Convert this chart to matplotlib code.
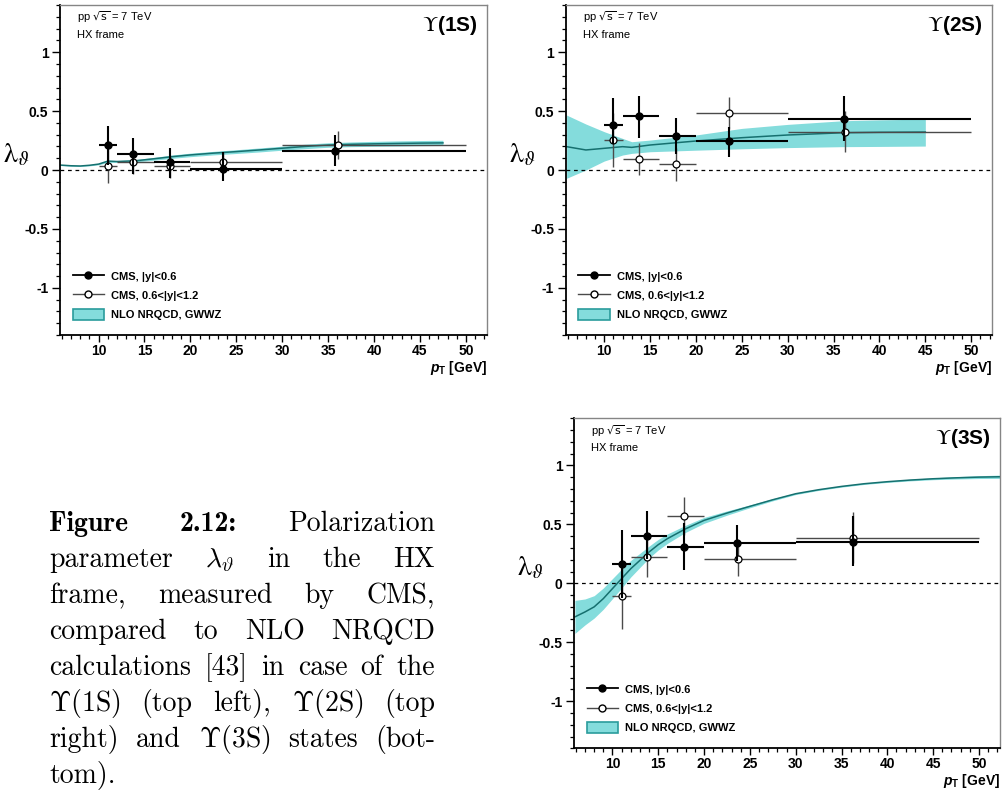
import matplotlib
matplotlib.use("Agg")
import matplotlib.pyplot as plt
import matplotlib.patches as mpatches
from matplotlib.lines import Line2D
from matplotlib.ticker import FixedLocator, FuncFormatter

plt.rcParams["font.family"] = "Liberation Sans"
plt.rcParams["axes.unicode_minus"] = False

# --- measurements: pT bins (GeV) ---
BIN_LO = [10, 12, 16, 20, 30]
BIN_HI = [12, 16, 20, 30, 50]

# Y(1S)
pt_1s_c = [11.0, 13.8, 17.8, 23.5, 35.8]
lam_1s_c = [0.21, 0.135, 0.065, 0.005, 0.165]
lo_1s_c = [0.165, 0.17, 0.135, 0.10, 0.13]
hi_1s_c = [0.165, 0.135, 0.12, 0.15, 0.13]
pt_1s_f = [11.0, 13.8, 17.8, 23.5, 36.1]
lam_1s_f = [0.034, 0.068, 0.03, 0.065, 0.215]
lo_1s_f = [0.147, 0.104, 0.10, 0.09, 0.12]
hi_1s_f = [0.14, 0.10, 0.10, 0.09, 0.12]

# Y(2S)
pt_2s_c = [11.0, 13.8, 17.8, 23.6, 36.1]
lam_2s_c = [0.38, 0.46, 0.29, 0.243, 0.432]
lo_2s_c = [0.16, 0.19, 0.15, 0.135, 0.19]
hi_2s_c = [0.227, 0.165, 0.155, 0.125, 0.195]
pt_2s_f = [11.0, 13.8, 17.8, 23.6, 36.2]
lam_2s_f = [0.254, 0.093, 0.047, 0.486, 0.325]
lo_2s_f = [0.23, 0.135, 0.137, 0.135, 0.175]
hi_2s_f = [0.23, 0.135, 0.137, 0.135, 0.175]

# Y(3S)
pt_3s_c = [11.0, 13.8, 17.8, 23.6, 36.2]
lam_3s_c = [0.164, 0.404, 0.308, 0.342, 0.347]
lo_3s_c = [0.285, 0.2, 0.198, 0.155, 0.2]
hi_3s_c = [0.285, 0.206, 0.2, 0.155, 0.22]
pt_3s_f = [11.0, 13.8, 17.8, 23.7, 36.3]
lam_3s_f = [-0.107, 0.223, 0.571, 0.203, 0.387]
lo_3s_f = [0.283, 0.17, 0.16, 0.14, 0.218]
hi_3s_f = [0.283, 0.17, 0.16, 0.14, 0.218]

# --- NLO NRQCD (GWWZ) bands ---
th_1s_pt = [5.8, 7, 8, 9, 10, 11, 12, 14, 16, 18, 20, 22.5, 25, 27.5, 30, 32.5, 35, 37.5, 40, 42.5, 45, 47.5]
th_1s_mid = [0.042, 0.036, 0.034, 0.04, 0.05, 0.075, 0.072, 0.078, 0.095, 0.113, 0.128, 0.143, 0.156, 0.17, 0.185, 0.2, 0.212, 0.218, 0.222, 0.225, 0.228, 0.23]
th_1s_lo = [0.038, 0.032, 0.03, 0.035, 0.044, 0.065, 0.064, 0.068, 0.083, 0.099, 0.113, 0.128, 0.14, 0.153, 0.168, 0.181, 0.193, 0.198, 0.201, 0.203, 0.206, 0.208]
th_1s_hi = [0.046, 0.04, 0.038, 0.045, 0.056, 0.085, 0.08, 0.088, 0.107, 0.127, 0.143, 0.158, 0.172, 0.187, 0.202, 0.219, 0.231, 0.238, 0.243, 0.247, 0.25, 0.252]

th_2s_pt = [5.9, 8, 10, 12, 13, 15, 20, 25, 30, 36, 40, 45]
th_2s_mid = [0.198, 0.17, 0.184, 0.198, 0.192, 0.212, 0.246, 0.274, 0.297, 0.316, 0.32, 0.322]
th_2s_lo = [-0.07, 0.0, 0.076, 0.127, 0.141, 0.155, 0.168, 0.18, 0.19, 0.198, 0.2, 0.203]
th_2s_hi = [0.466, 0.39, 0.325, 0.268, 0.24, 0.254, 0.297, 0.353, 0.387, 0.418, 0.425, 0.432]

th_3s_pt = [5.9, 7, 8, 9, 10, 11, 12, 13, 14, 15, 16, 18, 20, 22.5, 25, 27.5, 30, 32.5, 35, 37.5, 40, 42.5, 45, 47.5, 50, 52.3]
th_3s_mid = [-0.285, -0.243, -0.2, -0.13, -0.045, 0.04, 0.124, 0.195, 0.266, 0.328, 0.379, 0.463, 0.534, 0.596, 0.653, 0.709, 0.76, 0.794, 0.822, 0.845, 0.862, 0.876, 0.887, 0.895, 0.901, 0.904]
th_3s_hw = [0.14, 0.11, 0.095, 0.09, 0.085, 0.08, 0.07, 0.06, 0.05, 0.045, 0.04, 0.03, 0.025, 0.018, 0.012, 0.009, 0.007, 0.006, 0.006, 0.006, 0.006, 0.007, 0.008, 0.01, 0.012, 0.014]

X_MAJOR = [10, 15, 20, 25, 30, 35, 40, 45, 50]
Y_MAJOR = [-1, -0.5, 0, 0.5, 1]

BAND_FACE = "#84dcdc"
BAND_EDGE = "#2a9c9c"
LINE_TEAL = "#16706f"

W, H = 1005, 791


def xerrs(pt):
    return [[p - a for p, a in zip(pt, BIN_LO)], [b - p for p, b in zip(pt, BIN_HI)]]


def panel(rect, state, central, forward, theory):
    ax = fig.add_axes(rect)
    ax.set_xlim(5.8, 52.3)
    ax.set_ylim(-1.4, 1.4)

    t_pt, t_mid, t_lo, t_hi = theory
    ax.fill_between(t_pt, t_lo, t_hi, color=BAND_FACE, lw=0, zorder=1)
    ax.plot(t_pt, t_mid, color=LINE_TEAL, lw=1.1, zorder=2)
    ax.axhline(0, color="k", lw=0.9, ls=(0, (3, 3)), zorder=1.5)

    pt, lam, lo, hi = forward
    ax.errorbar(pt, lam, xerr=xerrs(pt), yerr=[lo, hi], fmt="o", ms=5, mfc="white",
                mec="k", mew=0.9, ecolor="#4a4a4a", elinewidth=1.0, capsize=0, zorder=3)
    pt, lam, lo, hi = central
    ax.errorbar(pt, lam, xerr=xerrs(pt), yerr=[lo, hi], fmt="o", ms=5, color="k",
                elinewidth=1.5, capsize=0, zorder=4)

    # axes in ROOT look
    for s in ("left", "bottom"):
        ax.spines[s].set_linewidth(1.3)
    for s in ("top", "right"):
        ax.spines[s].set_color("#858585")
        ax.spines[s].set_linewidth(1.0)
    ax.xaxis.set_major_locator(FixedLocator(X_MAJOR))
    ax.xaxis.set_minor_locator(FixedLocator(range(6, 53)))
    ax.yaxis.set_major_locator(FixedLocator(Y_MAJOR))
    ax.yaxis.set_minor_locator(FixedLocator([i / 10 for i in range(-14, 15)]))
    ax.yaxis.set_major_formatter(FuncFormatter(lambda v, p: f"{v:g}"))
    ax.tick_params(axis="x", which="major", direction="out", length=4.8, width=1.0, pad=1.8, labelsize=10)
    ax.tick_params(axis="x", which="minor", direction="out", length=2.8, width=0.9)
    ax.tick_params(axis="y", which="major", direction="out", length=5.8, width=1.0, pad=2.5, labelsize=10)
    ax.tick_params(axis="y", which="minor", direction="out", length=2.6, width=0.9)
    for lbl in ax.get_xticklabels() + ax.get_yticklabels():
        lbl.set_fontweight("bold")

    ax.text(0.04, 0.962, r"pp $\sqrt{\mathrm{s}}$ = 7 TeV", transform=ax.transAxes,
            fontsize=8, va="center", ha="left", math_fontfamily="dejavusans")
    ax.text(0.04, 0.909, "HX frame", transform=ax.transAxes, fontsize=8, va="center", ha="left")
    ax.text(0.977, 0.939, r"$\Upsilon$" + f"({state})", transform=ax.transAxes, fontsize=15,
            fontweight="bold", va="center", ha="right", math_fontfamily="stix")
    ax.text(-0.103, 0.545, r"$\mathrm{\lambda}_\vartheta$", transform=ax.transAxes, fontsize=20,
            va="center", ha="center", math_fontfamily="stix")
    ax.text(1.0, -0.112, r"$p_\mathrm{T}$ [GeV]", transform=ax.transAxes, fontsize=10,
            fontweight="bold", va="baseline", ha="right", math_fontfamily="custom")

    handles = [
        Line2D([], [], color="k", marker="o", ms=5, lw=1.3),
        Line2D([], [], color="#4a4a4a", marker="o", ms=5, mfc="white", mec="k", lw=1.0),
        mpatches.Patch(facecolor=BAND_FACE, edgecolor=BAND_EDGE, lw=1.2),
    ]
    ax.legend(handles, ["CMS, |y|<0.6", "CMS, 0.6<|y|<1.2", "NLO NRQCD, GWWZ"],
              loc="lower left", bbox_to_anchor=(0.03, 0.045), frameon=False, borderpad=0,
              borderaxespad=0, handlelength=2.8, handleheight=1.15, handletextpad=0.65,
              labelspacing=0.72, prop={"weight": "bold", "size": 8})
    return ax


plt.rcParams["mathtext.fontset"] = "custom"
plt.rcParams["mathtext.it"] = "Liberation Sans:italic:bold"
plt.rcParams["mathtext.rm"] = "Liberation Sans:bold"

fig = plt.figure(figsize=(W / 100, H / 100), dpi=100)


def rect(left, top, right, bottom):
    return [left / W, 1 - bottom / H, (right - left) / W, (bottom - top) / H]


panel(rect(60, 5, 487, 335), "1S",
      (pt_1s_c, lam_1s_c, lo_1s_c, hi_1s_c), (pt_1s_f, lam_1s_f, lo_1s_f, hi_1s_f),
      (th_1s_pt, th_1s_mid, th_1s_lo, th_1s_hi))
panel(rect(565.7, 5, 992.3, 335), "2S",
      (pt_2s_c, lam_2s_c, lo_2s_c, hi_2s_c), (pt_2s_f, lam_2s_f, lo_2s_f, hi_2s_f),
      (th_2s_pt, th_2s_mid, th_2s_lo, th_2s_hi))
panel(rect(574, 418.3, 1000, 748.3), "3S",
      (pt_3s_c, lam_3s_c, lo_3s_c, hi_3s_c), (pt_3s_f, lam_3s_f, lo_3s_f, hi_3s_f),
      (th_3s_pt, th_3s_mid,
       [m - h for m, h in zip(th_3s_mid, th_3s_hw)],
       [m + h for m, h in zip(th_3s_mid, th_3s_hw)]))

# --- caption, justified like the LaTeX original ---
CAPTION = [
    ["**Figure", "**2.12:", "Polarization"],
    ["parameter", r"$\lambda_\vartheta$", "in", "the", "HX"],
    ["frame,", "measured", "by", "CMS,"],
    ["compared", "to", "NLO", "NRQCD"],
    ["calculations", "[43]", "in", "case", "of", "the"],
    [r"$\Upsilon$(1S)", "(top", "left),", r"$\Upsilon$(2S)", "(top"],
    ["right)", "and", r"$\Upsilon$(3S)", "states", "(bot-"],
    ["tom)."],
]
CAP_LEFT, CAP_RIGHT = 49.3, 435.0
CAP_BASE0, CAP_STEP = 530.7, 36.1
CAP_SIZE = 20

renderer = fig.canvas.get_renderer()
for i, words in enumerate(CAPTION):
    yb = 1 - (CAP_BASE0 + i * CAP_STEP) / H
    texts = []
    for w in words:
        bold = w.startswith("**")
        t = fig.text(0, yb, w.lstrip("*"), fontsize=CAP_SIZE, va="baseline", ha="left",
                     family="cmb10" if bold else "cmr10", math_fontfamily="cm")
        texts.append(t)
    widths = [t.get_window_extent(renderer).width for t in texts]
    if len(texts) > 1 and i < len(CAPTION) - 1:
        gap = (CAP_RIGHT - CAP_LEFT - sum(widths)) / (len(texts) - 1)
    else:
        gap = 0
    x = CAP_LEFT
    for t, wd in zip(texts, widths):
        t.set_x(x / W)
        x += wd + gap

fig.savefig("out.png", dpi=100)
